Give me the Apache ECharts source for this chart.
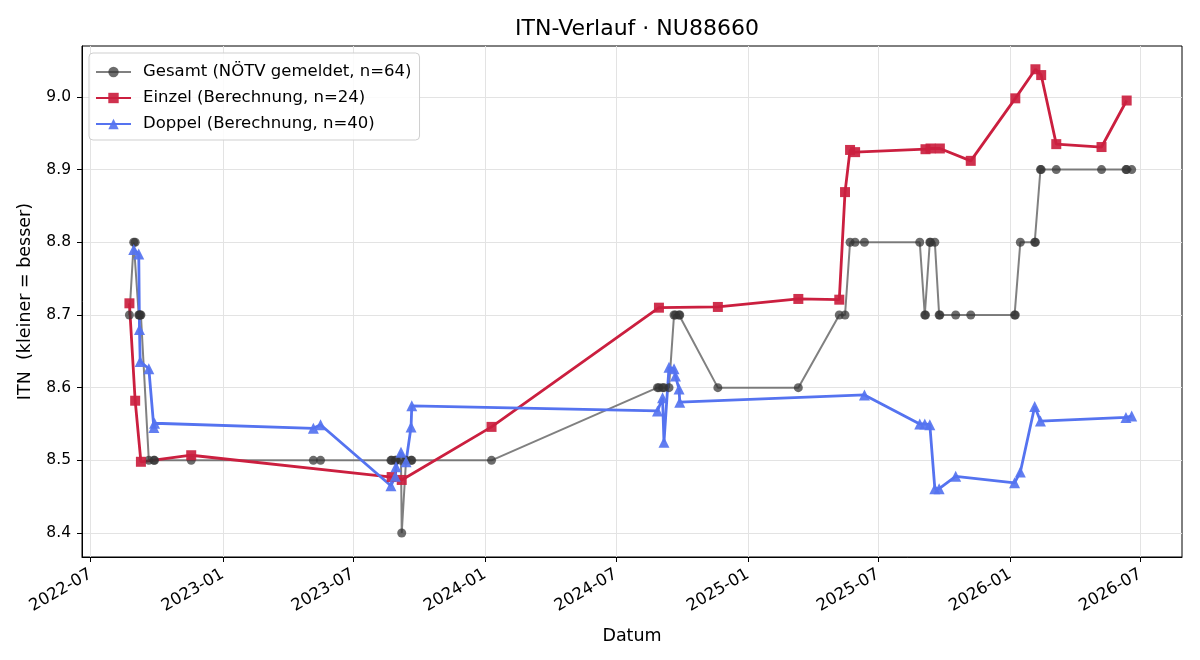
<!DOCTYPE html>
<html>
<head>
<meta charset="utf-8">
<script src="https://cdn.jsdelivr.net/npm/echarts@6/dist/echarts.min.js"></script>
<style>
html, body { margin: 0; padding: 0; background: #fff; }
#main { width: 1200px; height: 660px; }
</style>
</head>
<body>
<div id="main"></div>
<script>
// Einzel (Berechnung)
const einzelDates = ['2022-08-24','2022-09-01','2022-09-09','2022-11-18','2023-08-24','2023-09-07',
  '2024-01-10','2024-08-30','2024-11-20','2025-03-12','2025-05-08','2025-05-16','2025-05-23','2025-05-30',
  '2025-09-05','2025-09-12','2025-09-25','2025-11-07','2026-01-08','2026-02-05','2026-02-13','2026-03-06',
  '2026-05-08','2026-06-12'];
const einzelValues = [8.716, 8.582, 8.498, 8.507, 8.477, 8.473,
  8.546, 8.710, 8.711, 8.722, 8.721, 8.869, 8.927, 8.924,
  8.928, 8.929, 8.929, 8.912, 8.998, 9.038, 9.030, 8.935,
  8.931, 8.995];

// Doppel (Berechnung)
const doppelDates = ['2022-08-30','2022-09-06','2022-09-07','2022-09-08','2022-09-20','2022-09-27','2022-09-28',
  '2023-05-07','2023-05-17','2023-08-23','2023-08-29','2023-08-30','2023-09-06','2023-09-13','2023-09-20','2023-09-21',
  '2024-08-28','2024-09-04','2024-09-06','2024-09-13','2024-09-20','2024-09-22','2024-09-27','2024-09-28',
  '2025-06-12','2025-08-28','2025-09-04','2025-09-11','2025-09-18','2025-09-24','2025-10-17',
  '2026-01-07','2026-01-15','2026-02-04','2026-02-12','2026-06-11','2026-06-19'];
const doppelValues = [8.790, 8.784, 8.680, 8.636, 8.626, 8.545, 8.551,
  8.544, 8.549, 8.465, 8.478, 8.491, 8.511, 8.498, 8.546, 8.575,
  8.568, 8.586, 8.525, 8.628, 8.626, 8.616, 8.598, 8.580,
  8.590, 8.550, 8.550, 8.549, 8.461, 8.461, 8.478,
  8.469, 8.484, 8.574, 8.554, 8.559, 8.561];

// Gesamt (NÖTV gemeldet)
const gesamtDates = ['2022-08-24','2022-08-30','2022-09-01','2022-09-06','2022-09-07','2022-09-08','2022-09-09',
  '2022-09-20','2022-09-27','2022-09-28','2022-11-18','2023-05-07','2023-05-17','2023-08-23','2023-08-24',
  '2023-08-29','2023-08-30','2023-09-06','2023-09-07','2023-09-13','2023-09-20','2023-09-21','2024-01-10',
  '2024-08-28','2024-08-30','2024-09-04','2024-09-06','2024-09-13','2024-09-20','2024-09-22','2024-09-27',
  '2024-09-28','2024-11-20','2025-03-12','2025-05-08','2025-05-16','2025-05-23','2025-05-30','2025-06-12',
  '2025-08-28','2025-09-04','2025-09-05','2025-09-11','2025-09-12','2025-09-18','2025-09-24','2025-09-25',
  '2025-10-17','2025-11-07','2026-01-07','2026-01-08','2026-01-15','2026-02-04','2026-02-05','2026-02-12',
  '2026-02-13','2026-03-06','2026-05-08','2026-06-11','2026-06-12','2026-06-19'];
const gesamtValues = [8.7, 8.8, 8.8, 8.7, 8.7, 8.7, 8.7,
  8.5, 8.5, 8.5, 8.5, 8.5, 8.5, 8.5, 8.5,
  8.5, 8.5, 8.5, 8.4, 8.5, 8.5, 8.5, 8.5,
  8.6, 8.6, 8.6, 8.6, 8.6, 8.7, 8.7, 8.7,
  8.7, 8.6, 8.6, 8.7, 8.7, 8.8, 8.8, 8.8,
  8.8, 8.7, 8.7, 8.8, 8.8, 8.8, 8.7, 8.7,
  8.7, 8.7, 8.7, 8.7, 8.8, 8.8, 8.8, 8.9,
  8.9, 8.9, 8.9, 8.9, 8.9, 8.9];

const xTicks = ['2022-07-01','2023-01-01','2023-07-01','2024-01-01','2024-07-01',
  '2025-01-01','2025-07-01','2026-01-01','2026-07-01'];
const yTicks = [8.4, 8.5, 8.6, 8.7, 8.8, 8.9, 9.0];

function ts(s) {
  const p = s.split('-').map(Number);
  return Date.UTC(p[0], p[1] - 1, p[2]);
}
function pairs(dates, vals) {
  return dates.map((s, i) => [ts(s), vals[i]]);
}

const FONT = 'DejaVu Sans';
const chart = echarts.init(document.getElementById('main'), null, { renderer: 'canvas' });

chart.setOption({
  animation: false,
  backgroundColor: '#fff',
  textStyle: { fontFamily: FONT, color: '#000' },
  title: {
    text: 'ITN-Verlauf · NU88660',
    left: 632, textAlign: 'center', top: 13,
    textStyle: { fontFamily: FONT, fontSize: 22, fontWeight: 'normal', color: '#000' }
  },
  grid: {
    left: 82, right: 18, top: 46, bottom: 103,
    show: true, borderColor: '#000', borderWidth: 1, backgroundColor: 'transparent',
    containLabel: false, outerBoundsMode: 'none'
  },
  legend: {
    orient: 'vertical', left: 89, top: 53,
    padding: [9, 8, 6, 6],
    backgroundColor: 'rgba(255,255,255,0.85)',
    borderColor: '#cfcfcf', borderWidth: 1, borderRadius: 4,
    itemWidth: 35, itemHeight: 13, itemGap: 6,
    textStyle: { fontFamily: FONT, fontSize: 16.5, color: '#000', lineHeight: 20, padding: [0, 0, 0, 7] },
    data: ['Gesamt (NÖTV gemeldet, n=64)', 'Einzel (Berechnung, n=24)', 'Doppel (Berechnung, n=40)']
  },
  xAxis: {
    type: 'value',
    min: ts('2022-06-19'), max: ts('2026-08-28'),
    name: 'Datum', nameLocation: 'middle', nameGap: 70,
    nameTextStyle: { fontFamily: FONT, fontSize: 17.5, color: '#000' },
    axisLine: { show: true, onZero: false, lineStyle: { color: '#000', width: 1 } },
    axisTick: { show: true, length: 5, lineStyle: { color: '#000' }, customValues: xTicks.map(ts) },
    axisLabel: {
      customValues: xTicks.map(ts),
      rotate: 30, margin: 16,
      fontFamily: FONT, fontSize: 16.5, color: '#000',
      formatter: v => {
        const d = new Date(v);
        return d.getUTCFullYear() + '-' + String(d.getUTCMonth() + 1).padStart(2, '0');
      }
    },
    splitLine: { show: true, lineStyle: { color: '#e3e3e3', width: 1 } }
  },
  yAxis: {
    type: 'value',
    min: 8.367, max: 9.070,
    name: 'ITN  (kleiner = besser)', nameLocation: 'middle', nameGap: 48, nameRotate: 90,
    nameTextStyle: { fontFamily: FONT, fontSize: 17.5, color: '#000' },
    axisLine: { show: true, onZero: false, lineStyle: { color: '#000', width: 1 } },
    axisTick: { show: true, length: 5, lineStyle: { color: '#000' }, customValues: yTicks },
    axisLabel: {
      customValues: yTicks, margin: 11,
      fontFamily: FONT, fontSize: 15.5, color: '#000',
      formatter: v => v.toFixed(1)
    },
    splitLine: { show: true, lineStyle: { color: '#e3e3e3', width: 1 } }
  },
  series: [
    {
      name: 'Gesamt (NÖTV gemeldet, n=64)',
      type: 'line',
      data: pairs(gesamtDates, gesamtValues),
      symbol: 'circle', symbolSize: 9,
      lineStyle: { color: '#555', width: 2, opacity: 0.75 },
      itemStyle: { color: '#333', opacity: 0.72 },
      emphasis: { disabled: true }
    },
    {
      name: 'Einzel (Berechnung, n=24)',
      type: 'line',
      data: pairs(einzelDates, einzelValues),
      symbol: 'rect', symbolSize: 10,
      lineStyle: { color: '#cb1f3f', width: 2.8 },
      itemStyle: { color: '#cb1f3f', opacity: 0.92 },
      emphasis: { disabled: true }
    },
    {
      name: 'Doppel (Berechnung, n=40)',
      type: 'line',
      data: pairs(doppelDates, doppelValues),
      symbol: 'triangle', symbolSize: 11,
      lineStyle: { color: '#5573f0', width: 2.8 },
      itemStyle: { color: '#5573f0', opacity: 0.92 },
      emphasis: { disabled: true }
    }
  ]
});
</script>
</body>
</html>
